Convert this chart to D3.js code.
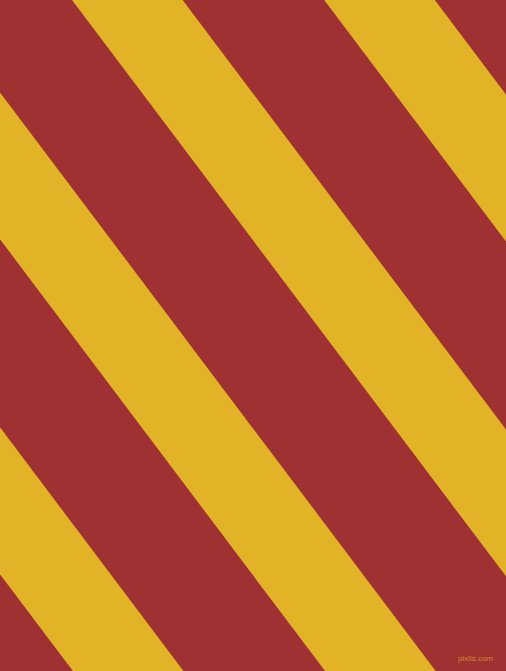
<!DOCTYPE html>
<html>
<head>
<meta charset="utf-8">
<style>
  html, body { margin: 0; padding: 0; background: #9f3132; }
  svg { display: block; }
</style>
<script src="https://cdn.jsdelivr.net/npm/d3@7"></script>
</head>
<body>
<script>
'use strict';

// Stripe bands (index along the repeat), and their fill colours.
var bandIndex = [-2, -1, 0, 1];
var bandColors = ['#e2b326', '#e2b326', '#e2b326', '#e2b326'];
var groundColor = '#9f3132';
var markText = ['pixlis.com'];

var width = 506,
    height = 671,
    lean = 0.753,      // horizontal shift per pixel down
    bandWidth = 110.6; // yellow width measured along a row

// band index -> left edge of the band on the top row
var x = d3.scaleLinear().domain([0, 1]).range([72, 324.2]);

var svg = d3.select('body').append('svg')
    .attr('width', width)
    .attr('height', height);

svg.append('rect')
    .attr('width', width)
    .attr('height', height)
    .attr('fill', groundColor);

svg.selectAll('polygon.band')
    .data(bandIndex)
  .enter().append('polygon')
    .attr('class', 'band')
    .attr('fill', function(d, i) { return bandColors[i]; })
    .attr('points', function(d) {
      var left = x(d),
          drift = lean * height;
      return [
        [left, 0],
        [left + bandWidth, 0],
        [left + bandWidth + drift, height],
        [left + drift, height]
      ].join(' ');
    });

svg.selectAll('text.mark')
    .data(markText)
  .enter().append('text')
    .attr('class', 'mark')
    .attr('x', 493)
    .attr('y', 661)
    .attr('text-anchor', 'end')
    .attr('font-family', 'Liberation Sans, Arial, sans-serif')
    .attr('font-size', 8)
    .attr('fill', '#d2892b')
    .text(function(d) { return d; });
</script>
</body>
</html>
